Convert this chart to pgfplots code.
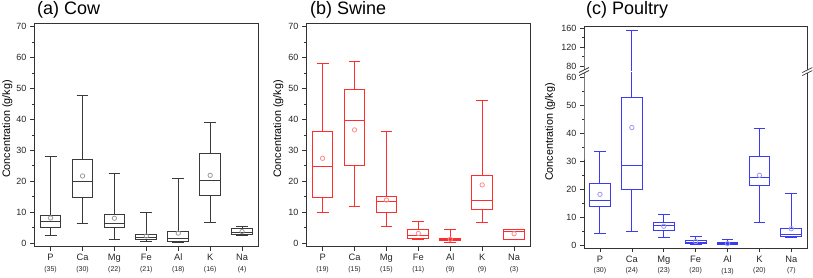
\documentclass[border=0pt]{standalone}
\usepackage{pgfplots}
\pgfplotsset{compat=1.18}
\usepgfplotslibrary{statistics}
\usepackage{fontspec}
\setmainfont{Liberation Sans}

\definecolor{cowc}{HTML}{3A3A3A}
\definecolor{cowm}{HTML}{9A9A9A}
\definecolor{swc}{HTML}{FF2E2E}
\definecolor{swm}{HTML}{FF8C8C}
\definecolor{poc}{HTML}{3B3BF2}
\definecolor{pom}{HTML}{9A9AF2}
\definecolor{frm}{HTML}{333333}

\newcommand{\bp}[6]{\addplot[bpst, boxplot prepared={draw direction=y, draw position=#1, lower whisker=#2, lower quartile=#3, median=#4, upper quartile=#5, upper whisker=#6, box extend=0.65, whisker extend=0.37}] coordinates {};}

\pgfplotsset{
  myax/.style={
    scale only axis, anchor=south west,
    xmin=-0.52, xmax=6.52,
    xtick={0,...,6},
    tick align=outside,
    major tick length=4pt, minor tick length=2pt,
    xtick pos=bottom, ytick pos=left,
    axis line style={draw=frm, line width=0.8pt},
    tick style={draw=frm, line width=0.7pt},
    tick label style={font=\fontsize{9}{10}\selectfont, text=black!85},
    /pgf/number format/assume math mode=true,
    xticklabel style={align=center, font=\fontsize{9.3}{10.5}\selectfont},
    minor y tick num=1,
    boxplot/draw direction=y,
  },
}

\begin{document}
\begin{tikzpicture}
\path[use as bounding box] (0,0) rectangle (813pt,277pt);

% ---------- (a) Cow ----------
\begin{axis}[myax, at={(34pt,30.3pt)}, width=224.7pt, height=223.4pt,
  ymin=-1.2, ymax=71.1, ytick={0,10,...,70},
  xticklabels={{P\\\fontsize{7}{8}\selectfont(35)},{Ca\\\fontsize{7}{8}\selectfont(30)},{Mg\\\fontsize{7}{8}\selectfont(22)},{Fe\\\fontsize{7}{8}\selectfont(21)},{Al\\\fontsize{7}{8}\selectfont(18)},{K\\\fontsize{7}{8}\selectfont(16)},{Na\\\fontsize{7}{8}\selectfont(4)}},
  bpst/.style={draw=cowc, line width=1pt, solid}]
\bp{0}{2.5}{5.0}{7.0}{9.0}{28.0}
\bp{1}{6.3}{14.6}{19.8}{27.0}{47.7}
\bp{2}{1.0}{5.1}{6.3}{9.1}{22.5}
\bp{3}{0.6}{1.1}{1.7}{2.7}{9.8}
\bp{4}{0.0}{0.5}{1.6}{3.8}{20.9}
\bp{5}{6.7}{15.3}{20.2}{29.0}{39.0}
\bp{6}{2.4}{2.6}{3.3}{4.6}{5.2}
\addplot[only marks, mark=o, mark size=2.2pt, draw=cowm, line width=0.8pt, mark options={solid, draw=cowm, fill=none}] coordinates {(0,8.1) (1,21.7) (2,8.0) (3,2.3) (4,3.2) (5,21.9) (6,3.7)};
\end{axis}

% ---------- (b) Swine ----------
\begin{axis}[myax, at={(306pt,30.3pt)}, width=224.7pt, height=223.4pt,
  ymin=-1.2, ymax=71.1, ytick={0,10,...,70},
  xticklabels={{P\\\fontsize{7}{8}\selectfont(19)},{Ca\\\fontsize{7}{8}\selectfont(15)},{Mg\\\fontsize{7}{8}\selectfont(15)},{Fe\\\fontsize{7}{8}\selectfont(11)},{Al\\\fontsize{7}{8}\selectfont(9)},{K\\\fontsize{7}{8}\selectfont(9)},{Na\\\fontsize{7}{8}\selectfont(3)}},
  bpst/.style={draw=swc, line width=1pt, solid}]
\bp{0}{10.0}{14.8}{24.7}{36.1}{58.1}
\bp{1}{11.9}{25.0}{39.5}{49.6}{58.7}
\bp{2}{5.4}{10.0}{13.3}{15.0}{36.0}
\bp{3}{1.1}{1.4}{2.5}{4.4}{7.1}
\bp{4}{0.2}{0.8}{1.1}{1.5}{4.3}
\bp{5}{6.7}{11.0}{13.8}{22.0}{46.1}
\bp{6}{1.0}{1.0}{3.7}{4.4}{4.4}
\addplot[only marks, mark=o, mark size=2.2pt, draw=swm, line width=0.8pt, mark options={solid, draw=swm, fill=none}] coordinates {(0,27.4) (1,36.6) (2,13.9) (3,3.1) (4,1.2) (5,18.8) (6,3.0)};
\end{axis}

% ---------- (c) Poultry, lower part ----------
\begin{axis}[myax, name=cl, at={(584pt,28.7pt)}, width=223.3pt, height=175.3pt,
  xmin=-0.5, xmax=6.5,
  axis line style={draw=none},
  ymin=-1.2, ymax=61.5, ytick={0,10,...,60},
  xticklabels={{P\\\fontsize{7}{8}\selectfont(30)},{Ca\\\fontsize{7}{8}\selectfont(24)},{Mg\\\fontsize{7}{8}\selectfont(23)},{Fe\\\fontsize{7}{8}\selectfont(20)},{Al\\\fontsize{7}{8}\selectfont(13)},{K\\\fontsize{7}{8}\selectfont(20)},{Na\\\fontsize{7}{8}\selectfont(7)}},
  bpst/.style={draw=poc, line width=1pt, solid}]
\bp{0}{4.1}{13.8}{16.0}{22.1}{33.3}
\bp{1}{4.8}{19.8}{28.3}{52.7}{155}
\bp{2}{2.6}{5.0}{6.9}{8.1}{11.0}
\bp{3}{0.2}{0.5}{1.0}{1.6}{3.1}
\bp{4}{0.0}{0.1}{0.5}{1.0}{1.8}
\bp{5}{7.9}{21.4}{24.3}{31.5}{41.6}
\bp{6}{2.5}{3.1}{3.9}{6.0}{18.4}
\addplot[only marks, mark=o, mark size=2.2pt, draw=pom, line width=0.8pt, mark options={solid, draw=pom, fill=none}] coordinates {(0,18.1) (1,42.0) (2,6.7) (3,1.2) (4,0.5) (5,24.9) (6,5.8)};
\end{axis}

% ---------- (c) Poultry, upper part ----------
\begin{axis}[myax, name=cu, at={(584pt,207pt)}, width=223.3pt, height=44pt,
  xmin=-0.5, xmax=6.5, xtick=\empty,
  axis line style={draw=none},
  ymin=71.6, ymax=164.2, ytick={80,120,160},
  bpst/.style={draw=poc, line width=1pt, solid}]
\bp{1}{4.8}{19.8}{28.3}{52.7}{155}
\end{axis}

\draw[draw=frm, line width=0.8pt] (cl.south west) -- (cl.south east) -- (cl.north east) -- (cu.south east) -- (cu.north east) -- (cu.north west) -- (cu.south west) -- (cl.north west) -- cycle;
% axis breaks
\foreach \xx in {584pt,807.3pt}{
  \fill[white] ([xshift=-5pt]\xx,201.5pt) -- ([xshift=5pt]\xx,206.5pt) -- ([xshift=5pt]\xx,209.5pt) -- ([xshift=-5pt]\xx,204.5pt) -- cycle;
  \draw[frm, line width=0.7pt] ([xshift=-5pt]\xx,201.5pt) -- ([xshift=5pt]\xx,206.5pt);
  \draw[frm, line width=0.7pt] ([xshift=-5pt]\xx,204.5pt) -- ([xshift=5pt]\xx,209.5pt);
}

% titles
\node[anchor=base west, inner sep=0pt, font=\fontsize{18}{21}\selectfont] at (37pt,263pt) {(a) Cow};
\node[anchor=base west, inner sep=0pt, font=\fontsize{18}{21}\selectfont] at (310pt,263pt) {(b) Swine};
\node[anchor=base west, inner sep=0pt, font=\fontsize{18}{21}\selectfont] at (586pt,263pt) {(c) Poultry};

% y labels
\node[rotate=90, inner sep=0pt, font=\fontsize{10.8}{12}\selectfont] at (7.3pt,148pt) {Concentration (g/kg)};
\node[rotate=90, inner sep=0pt, font=\fontsize{10.8}{12}\selectfont] at (278.3pt,148pt) {Concentration (g/kg)};
\node[rotate=90, inner sep=0pt, font=\fontsize{10.8}{12}\selectfont] at (550pt,145pt) {Concentration (g/kg)};
\end{tikzpicture}
\end{document}
